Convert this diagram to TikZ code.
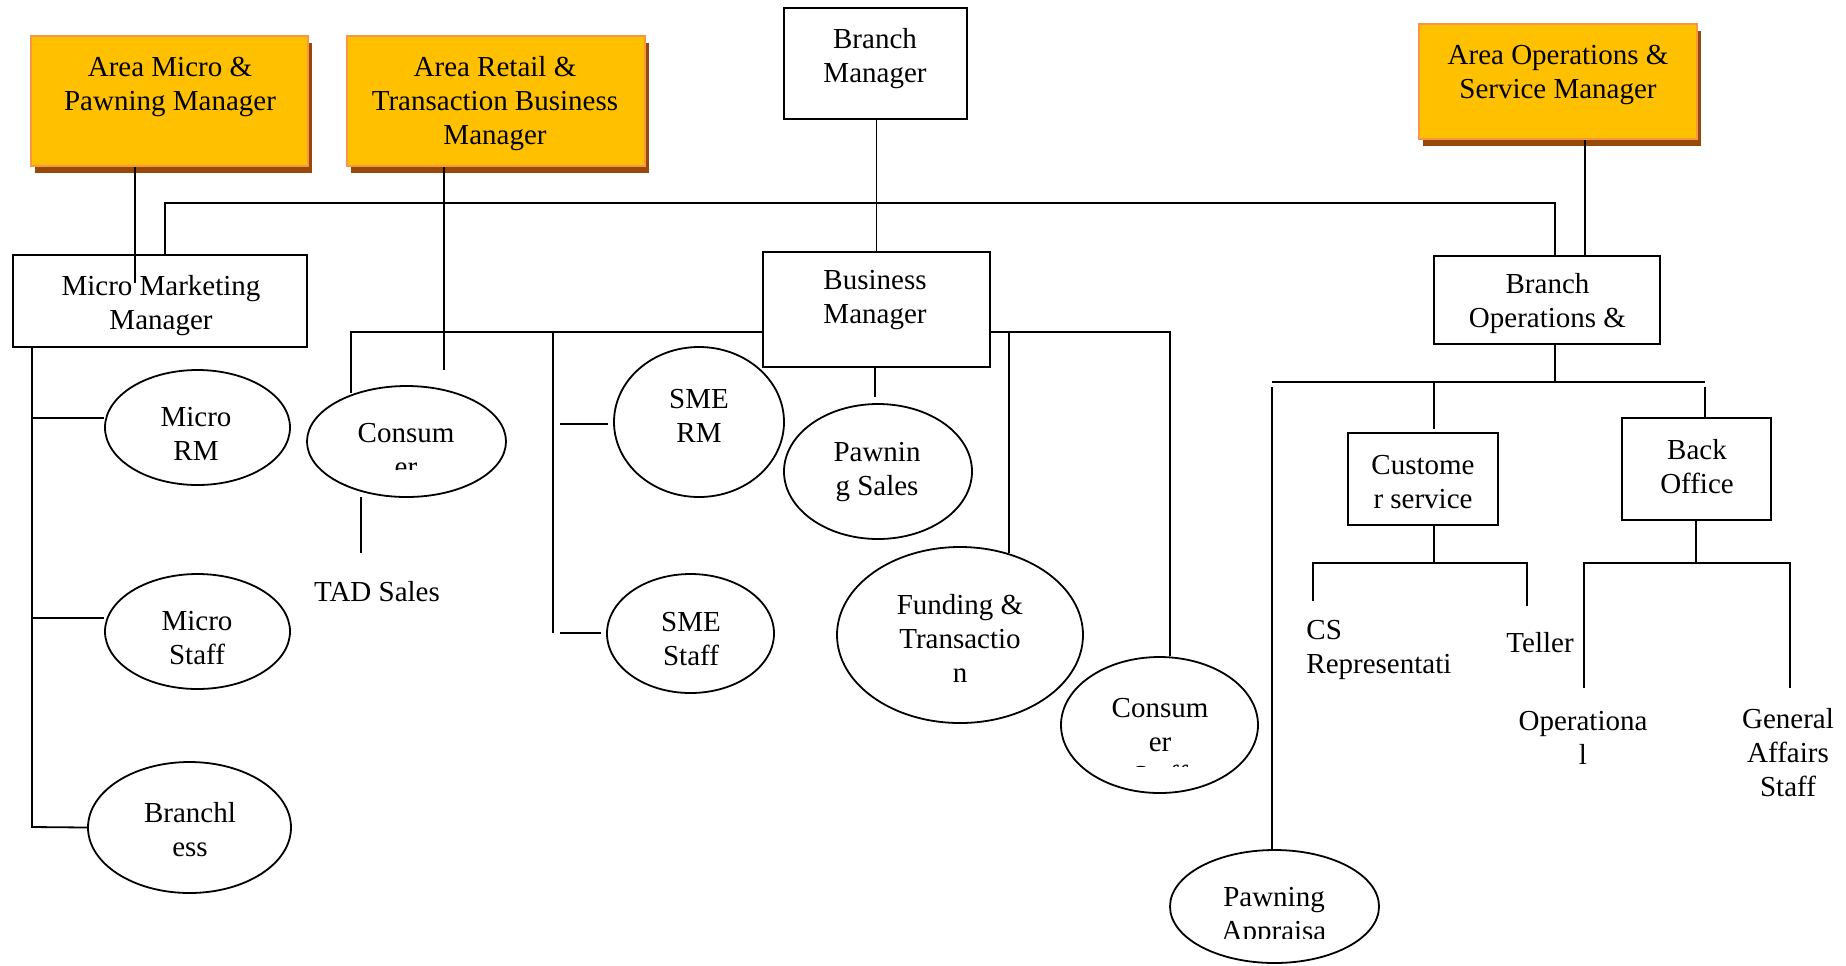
\documentclass[tikz,border=0pt]{standalone}
\usepackage{fontspec}
\setmainfont{Liberation Serif}
\usetikzlibrary{shapes.geometric,shadows}
\definecolor{boxfill}{HTML}{FFC000}
\definecolor{boxedge}{HTML}{F79646}
\definecolor{boxshadow}{HTML}{984807}
\begin{document}
\begin{tikzpicture}[x=0.5pt,y=-0.5pt,
  conn/.style={line width=0.9pt},
  txt/.style={font=\fontsize{14.5}{17}\selectfont, align=center, inner sep=0pt},
  plainbox/.style={draw, line width=1.1pt, inner sep=0pt},
  orangebox/.style={draw=boxedge, line width=1.2pt, fill=boxfill, inner sep=0pt,
     drop shadow={shadow xshift=1.8pt, shadow yshift=-3.4pt, fill=boxshadow, opacity=1, draw=none}},
  oval/.style={ellipse, draw, line width=0.9pt, inner sep=0pt}]
\useasboundingbox (0,0) rectangle (1846,965);

% ---------- boxes ----------
\node[orangebox, minimum width=138.5pt, minimum height=65pt] (amp) at (169.5,101) {};
\node[txt] (amp-t) at (170,86.5) {Area Micro \&\\Pawning Manager};
\node[orangebox, minimum width=149pt, minimum height=65pt] (art) at (496,101) {};
\node[txt] (art-t) at (495,103.5) {Area Retail \&\\Transaction Business\\Manager};
\node[orangebox, minimum width=139pt, minimum height=57.5pt] (aos) at (1558,81.5) {};
\node[txt] (aos-t) at (1558,74.5) {Area Operations \&\\Service Manager};

\node[plainbox, minimum width=91.5pt, minimum height=55.5pt] (bm) at (875.5,63.5) {};
\node[txt] (bm-t) at (875,58.5) {Branch\\Manager};
\node[plainbox, minimum width=147pt, minimum height=46pt] (mmm) at (160,301) {};
\node[txt] (mmm-t) at (161,305.5) {Micro Marketing\\Manager};
\node[plainbox, minimum width=113.5pt, minimum height=57.5pt] (bsm) at (876.5,309.5) {};
\node[txt] (bsm-t) at (875,300.5) {Business\\Manager};
\node[plainbox, minimum width=113pt, minimum height=44pt] (bom) at (1547,300) {};
\node[txt] (bom-t) at (1547.5,303.5) {Branch\\Operations \&};
\node[plainbox, minimum width=75pt, minimum height=46pt] (cs) at (1423,479) {};
\node[txt] (cs-t) at (1423,482) {Custome\\r service};
\node[plainbox, minimum width=74.5pt, minimum height=51pt] (bo) at (1696.5,469) {};
\node[txt] (bo-t) at (1697,467) {Back\\Office};

% ---------- ellipses ----------
\node[oval, minimum width=92.5pt, minimum height=57.5pt] (erm) at (197.5,427.5) {};
\node[txt] (erm-t) at (196,434) {Micro\\RM};
\node[oval, minimum width=92.5pt, minimum height=57.5pt] (ems) at (197.5,631.5) {};
\node[txt] (ems-t) at (197,638.5) {Micro\\Staff};
\node[oval, minimum width=101.5pt, minimum height=65.5pt] (ebl) at (189.5,827.5) {};
\node[txt] (ebl-t) at (190,830) {Branchl\\ess};
\node[oval, minimum width=99.5pt, minimum height=55.5pt] (ecl) at (406.5,441.5) {};
\begin{scope}
  \clip (300,380) rectangle (520,469);
  \node[txt] (ecl-t) at (406,450) {Consum\\er};
\end{scope}
\node[oval, minimum width=85pt, minimum height=75pt] (esr) at (699,422) {};
\node[txt] (esr-t) at (699,416) {SME\\RM};
\node[oval, minimum width=94pt, minimum height=67.5pt] (eps) at (878,471.5) {};
\node[txt] (eps-t) at (877,472.5) {Pawnin\\g Sales};
\node[oval, minimum width=83.5pt, minimum height=59.5pt] (ess) at (690.5,633.5) {};
\node[txt] (ess-t) at (691,639) {SME\\Staff};
\node[oval, minimum width=123pt, minimum height=88pt] (eft) at (960,635) {};
\node[txt] (eft-t) at (960,638.5) {Funding \&\\Transactio\\n};
\node[oval, minimum width=98.5pt, minimum height=68pt] (ecr) at (1159.5,725) {};
\begin{scope}
  \clip (1050,650) rectangle (1270,766);
  \node[txt] (ecr-t) at (1160,742) {Consum\\er\\Staff};
\end{scope}
\node[oval, minimum width=104.5pt, minimum height=56.5pt] (epa) at (1274.5,906.5) {};
\begin{scope}
  \clip (1160,840) rectangle (1390,938);
  \node[txt] (epa-t) at (1274,917) {Pawning\\Appraisa};
\end{scope}

% ---------- plain labels ----------
\node[txt] (tad) at (377,592) {TAD Sales};
\node[txt, align=left, anchor=west] (csr) at (1306,650) {CS\\Representati};
\node[txt] (tel) at (1540,643) {Teller};
\node[txt] (opl) at (1583,737.5) {Operationa\\l};
\node[txt] (gas) at (1788,753) {General\\Affairs\\Staff};

% ---------- connectors ----------
% Area managers
\coordinate (ampd) at (135,283);
\draw[conn] (amp.south -| ampd) -- (ampd);
\coordinate (artd) at (444,370);
\draw[conn] (art.south -| artd) -- (artd);
\coordinate (aosd) at (1585,0);
\draw[conn] (aos.south -| aosd) -- (bom.north -| aosd);
% top bus
\coordinate (busl) at (165,203);
\coordinate (busr) at (1555,203);
\draw[conn] (mmm.north -| busl) -- (busl) -- (busr) -- (bom.north -| busr);
\draw[conn] (bm.south -| bsm.north) -- (bsm.north);
% Micro Marketing branch
\coordinate (mlx) at (32,827);
\coordinate (mrm) at (32,418);
\coordinate (mst) at (32,618);
\draw[conn] (mmm.south -| mlx) -- (mlx) -- (ebl.west);
\draw[conn] (mrm) -- (erm.west |- mrm);
\draw[conn] (mst) -- (ems.west |- mst);
% Business manager left
\coordinate (bl) at (351,332);
\coordinate (bld) at (351,393);
\draw[conn] (bsm.west |- bl) -- (bl) -- (bld);
\coordinate (bl2) at (553,332);
\coordinate (bl2d) at (553,633);
\draw[conn] (bl2) -- (bl2d);
\coordinate (srm1) at (560,424);
\coordinate (srm2) at (608,424);
\draw[conn] (srm1) -- (srm2);
\coordinate (sst1) at (560,633);
\coordinate (sst2) at (601,633);
\draw[conn] (sst1) -- (sst2);
\coordinate (cld1) at (361,497);
\coordinate (cld2) at (361,553);
\draw[conn] (cld1) -- (cld2);
% Business manager down / right
\coordinate (psd) at (875,397);
\draw[conn] (bsm.south -| psd) -- (psd);
\coordinate (br) at (1170,332);
\draw[conn] (bsm.east |- br) -- (br) -- (ecr.north -| br);
\coordinate (fd1) at (1009,332);
\coordinate (fd2) at (1009,553);
\draw[conn] (fd1) -- (fd2);
% Branch operations
\coordinate (ob) at (1555,382);
\draw[conn] (bom.south -| ob) -- (ob);
\coordinate (obl) at (1272,382);
\coordinate (obr) at (1705,382);
\draw[conn] (obl) -- (obr);
\coordinate (pa1) at (1272,387);
\draw[conn] (pa1) -- (epa.north -| pa1);
\coordinate (cs1) at (1434,382);
\coordinate (cs2) at (1434,429);
\draw[conn] (cs1) -- (cs2);
\coordinate (bo1) at (1705,387);
\draw[conn] (bo1) -- (bo.north -| bo1);
% Customer service children
\coordinate (csb) at (1434,563);
\coordinate (csl) at (1313,563);
\coordinate (csr2) at (1527,563);
\coordinate (csld) at (1313,601);
\coordinate (csrd) at (1527,606);
\draw[conn] (cs.south -| csb) -- (csb);
\draw[conn] (csld) -- (csl) -- (csr2) -- (csrd);
% Back office children
\coordinate (bob) at (1696,563);
\coordinate (bol) at (1584,563);
\coordinate (bor) at (1790,563);
\coordinate (bold) at (1584,688);
\coordinate (bord) at (1790,688);
\draw[conn] (bo.south -| bob) -- (bob);
\draw[conn] (bold) -- (bol) -- (bor) -- (bord);
\end{tikzpicture}
\end{document}
